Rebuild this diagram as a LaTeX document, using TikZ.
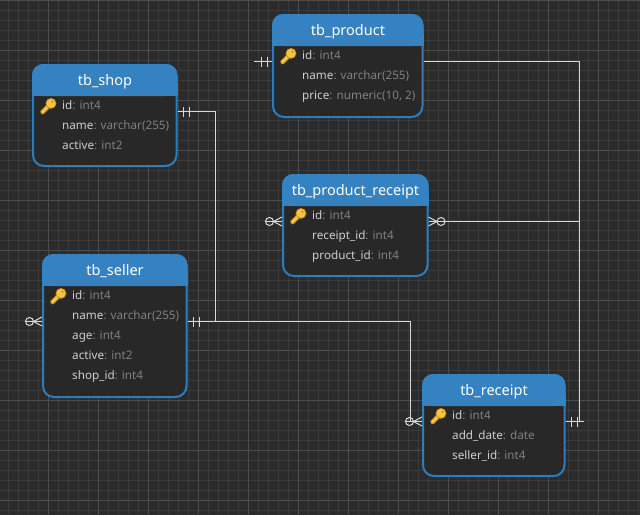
\documentclass[tikz,border=0pt]{standalone}
\usepackage{fontspec}
\setmainfont{Noto Sans}
\definecolor{bgc}{HTML}{2B2B2B}
\definecolor{minorc}{HTML}{3A3A3A}
\definecolor{majorc}{HTML}{4C4C4C}
\definecolor{bodyc}{HTML}{282828}
\definecolor{headc}{HTML}{3582C2}
\definecolor{edgec}{HTML}{2F7CBA}
\definecolor{linec}{HTML}{D8D8D8}
\definecolor{fieldc}{HTML}{CCCCCC}
\definecolor{typec}{HTML}{808080}
\definecolor{keyc}{HTML}{F6C445}
\definecolor{keyd}{HTML}{C98F1A}
\tikzset{
  x=1pt,y=-1pt,
  minorline/.style={minorc,line width=1pt},
  majorline/.style={majorc,line width=1pt},
  tablebox/.style={draw=edgec,fill=bodyc,line width=2pt,rounded corners=11pt,inner sep=0pt,outer sep=1pt},
  headfill/.style={fill=headc,rounded corners=11pt},
  titletext/.style={text=white,font=\fontsize{14.5}{16}\selectfont,anchor=base,inner sep=0pt},
  rowtext/.style={anchor=base west,inner sep=0pt,font=\fontsize{11.7}{14}\selectfont},
  conn/.style={linec,line width=1pt},
  tick/.style={linec,line width=1pt},
  footring/.style={linec,line width=1pt,fill=none},
  keyicon/.pic={
    \fill[keyd] (0.3,13.2) -- (9.2,3.8) -- (12.6,7.2) -- (3.8,16) -- (1.2,16) -- cycle;
    \fill[keyc] (1.2,13.4) -- (9.6,4.8) -- (11.4,6.8) -- (3.4,15) -- (1.8,15) -- cycle;
    \fill[keyd] (11,5.4) circle[radius=5.4];
    \fill[keyc] (11,5.4) circle[radius=4.5];
    \fill[keyd] (12.4,3.8) circle[radius=1.2];
  }
}
\newcommand{\fld}[2]{\textcolor{fieldc}{#1}\textcolor{typec}{: #2}}
% name, left, top, right, bottom, title
\newcommand{\dbtable}[6]{%
  \node[tablebox,anchor=north west,minimum width=#4-#2-2.5,minimum height=#5-#3-2] (#1) at (#2,#3) {};
  \path[headfill] (#2,#3+32) -- (#2,#3) -- (#4-0.5,#3) -- (#4-0.5,#3+32) -- cycle;
  \fill[headc] (#2,#3+20) rectangle (#4-0.5,#3+32);
  \node[titletext] (#1-title) at ({(#2+#4)/2},#3+21) {#6};
  \pic at (#2+8,#3+34) {keyicon};
}
\begin{document}
\begin{tikzpicture}
\useasboundingbox (0,0) rectangle (640,515);
\fill[bgc] (0,0) rectangle (640,515);
\foreach \g in {8,18,...,638} {\draw[minorline] (\g+0.5,0) -- (\g+0.5,515);}
\foreach \g in {10,20,...,510} {\draw[minorline] (0,\g+0.5) -- (640,\g+0.5);}
\foreach \g in {48,98,...,598} {\draw[majorline] (\g+0.5,0) -- (\g+0.5,515);}
\foreach \g in {0,50,...,500} {\draw[majorline] (0,\g+0.5) -- (640,\g+0.5);}

% connector bends and free ends
\coordinate (rbus1) at (579.5,61.5);
\coordinate (rbus2) at (579.5,421.5);
\coordinate (rbus3) at (579.5,221.5);
\coordinate (sbus1) at (215.5,111.5);
\coordinate (sbus2) at (215.5,321.5);
\coordinate (sr1) at (410.5,321.5);
\coordinate (sr2) at (410.5,421.5);
\coordinate (pstub) at (254,61.5);
\coordinate (sellerstub) at (25,321.5);
\coordinate (prstub) at (265,221.5);
\coordinate (srstub) at (405,421.5);
\coordinate (rstub) at (584,421.5);

\dbtable{product}{272}{14}{424}{118}{tb\_product}
\dbtable{shop}{32}{64}{178}{167}{tb\_shop}
\dbtable{prodreceipt}{282}{174}{429}{277}{tb\_product\_receipt}
\dbtable{seller}{42}{254}{188}{398}{tb\_seller}
\dbtable{receipt}{422}{374}{566}{477}{tb\_receipt}

\draw[conn] (product.east |- rbus1) -- (rbus1) -- (rbus2);
\draw[conn] (prodreceipt.east |- rbus3) -- (rbus3);
\draw[conn] (shop.east |- sbus1) -- (sbus1) -- (sbus2);
\draw[conn] (seller.east |- sr1) -- (sr1) -- (sr2);

\node[rowtext] (p1) at (302,59) {\fld{id}{int4}};
\node[rowtext] (p2) at (302,79) {\fld{name}{varchar(255)}};
\node[rowtext] (p3) at (302,99) {\fld{price}{numeric(10, 2)}};
\node[rowtext] (s1) at (62,109) {\fld{id}{int4}};
\node[rowtext] (s2) at (62,129) {\fld{name}{varchar(255)}};
\node[rowtext] (s3) at (62,149) {\fld{active}{int2}};
\node[rowtext] (pr1) at (312,219) {\fld{id}{int4}};
\node[rowtext] (pr2) at (312,239) {\fld{receipt\_id}{int4}};
\node[rowtext] (pr3) at (312,259) {\fld{product\_id}{int4}};
\node[rowtext] (e1) at (72,299) {\fld{id}{int4}};
\node[rowtext] (e2) at (72,319) {\fld{name}{varchar(255)}};
\node[rowtext] (e3) at (72,339) {\fld{age}{int4}};
\node[rowtext] (e4) at (72,359) {\fld{active}{int2}};
\node[rowtext] (e5) at (72,379) {\fld{shop\_id}{int4}};
\node[rowtext] (r1) at (452,419) {\fld{id}{int4}};
\node[rowtext] (r2) at (452,439) {\fld{add\_date}{date}};
\node[rowtext] (r3) at (452,459) {\fld{seller\_id}{int4}};

% stubs
\draw[conn] (product.west |- pstub) -- (pstub);
\draw[conn] (receipt.east |- rstub) -- (rstub);
\draw[conn] (seller.west |- sellerstub) -- (sellerstub);
\draw[conn] (prodreceipt.west |- prstub) -- (prstub);
\draw[conn] (receipt.west |- srstub) -- (srstub);

% one-and-only-one ticks
\foreach \tx/\ty in {261.5/61.5,267.5/61.5,183.5/111.5,189.5/111.5,193.5/321.5,199.5/321.5,571.5/421.5,577.5/421.5}
  {\draw[tick] (\tx,\ty-5) -- (\tx,\ty+5);}

% zero-or-many feet: ring centre, direction towards the table
\foreach \cx/\cy/\dr in {29.5/321.5/1,269.5/221.5/1,409.5/421.5/1,441/221.5/-1}{
  \draw[footring] (\cx,\cy) circle[radius=4];
  \draw[conn] (\cx+\dr*4,\cy) -- (\cx+\dr*12.5,\cy-4.5);
  \draw[conn] (\cx+\dr*4,\cy) -- (\cx+\dr*12.5,\cy+4.5);
}
\end{tikzpicture}
\end{document}
